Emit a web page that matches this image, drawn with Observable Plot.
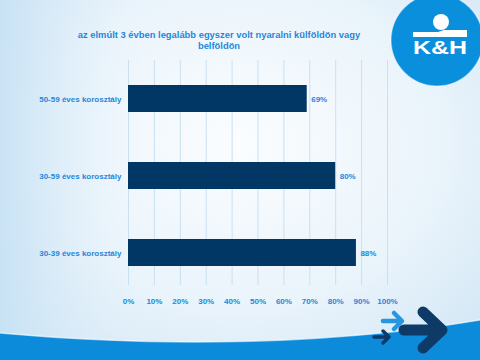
<!DOCTYPE html>
<html>
<head>
<meta charset="utf-8">
<script src="https://cdn.jsdelivr.net/npm/d3@7"></script>
<script src="https://cdn.jsdelivr.net/npm/@observablehq/plot@0.6"></script>
<style>
  html, body { margin:0; padding:0; width:480px; height:360px; overflow:hidden; }
  body {
    position: relative;
    font-family: "Liberation Sans", Arial, sans-serif;
    background: radial-gradient(ellipse 75% 80% at 50% 40%, #fbfdff 0%, #eaf4fb 55%, #cfe5f5 100%);
  }
  #deco, #chart, #title { position:absolute; left:0; top:0; }
  #title {
    left: 62px; width: 314px; top: 29px;
    text-align: center; color: #1f87dc; font-weight: bold; font-size: 9.4px; line-height: 11px;
  }
</style>
</head>
<body>
<svg id="deco" width="480" height="360" viewBox="0 0 480 360">
  <defs>
    <linearGradient id="lg" x1="0" x2="1" y1="0" y2="0">
      <stop offset="0" stop-color="#c6e1f4" stop-opacity="0.9"/>
      <stop offset="0.3" stop-color="#e6f2fb" stop-opacity="0"/>
    </linearGradient>
  </defs>
  <rect x="0" y="0" width="480" height="360" fill="url(#lg)"/>
  <path d="M0,333 C120,344 300,350 480,320 L480,360 L0,360 Z" fill="#0b8bd9"/>
  <path d="M0,333 C120,344 300,350 480,320" fill="none" stroke="#ffffff" stroke-opacity="0.6" stroke-width="1.5"/>
  <!-- arrows -->
  <g stroke-linecap="round" stroke-linejoin="round" fill="none">
    <path d="M383,321 L400,321 M394,313 L402,321 L394,329" stroke="#2596e0" stroke-width="4.5"/>
    <path d="M374,337 L388,337 M383,331 L389,337 L383,343" stroke="#0d3a66" stroke-width="3.5"/>
    <path d="M404,330 L441,330 M423,312 L442,330 L423,348" stroke="#0d3a66" stroke-width="11"/>
  </g>
  <!-- logo -->
  <circle cx="437" cy="40" r="46" fill="#0a8fdc"/>
  <circle cx="437" cy="40" r="46" fill="none" stroke="#ffffff" stroke-opacity="0.35" stroke-width="1.5"/>
  <circle cx="441" cy="22" r="8" fill="#ffffff"/>
  <path d="M413,32 L438,32 L444,30 L467,30 L467,37 L413,37 Z" fill="#ffffff"/>
  <text x="440" y="54" text-anchor="middle" fill="#ffffff" font-family="Liberation Sans, Arial, sans-serif" font-weight="bold" font-size="19" textLength="54" lengthAdjust="spacingAndGlyphs">K&amp;H</text>
</svg>
<div id="chart"></div>
<div id="title">az elmúlt 3 évben legalább egyszer volt nyaralni külföldön vagy belföldön</div>
<script>
const categories = ["50-59 éves korosztály", "30-59 éves korosztály", "30-39 éves korosztály"];
const values = [69, 80, 88];
const tickValues = [0, 10, 20, 30, 40, 50, 60, 70, 80, 90, 100];

const data = categories.map((c, i) => ({category: c, value: values[i]}));
const blue = "#1f87dc";
const navy = "#003764";

const plot = Plot.plot({
  width: 480,
  height: 360,
  marginLeft: 128,
  marginRight: 93,
  marginTop: 59,
  marginBottom: 69,
  style: {background: "transparent", fontFamily: "Liberation Sans, Arial, sans-serif", overflow: "visible"},
  x: {domain: [0, 100], label: null},
  y: {domain: categories, paddingInner: 0.65, paddingOuter: 0.32, label: null},
  marks: [
    Plot.gridX(tickValues, {stroke: "#c9e0f1", strokeOpacity: 1, strokeWidth: 1, insetTop: 1, insetBottom: 6}),
    Plot.axisX(tickValues, {tickSize: 0, tickPadding: 7, tickFormat: d => d + "%", fill: blue, fontWeight: "bold", fontSize: 8, label: null}),
    Plot.axisY({tickSize: 0, tickPadding: 7, fill: blue, fontWeight: "bold", fontSize: 8, label: null}),
    Plot.barX(data, {x: "value", y: "category", fill: navy}),
    Plot.text(data, {x: "value", y: "category", text: d => d.value + "%", dx: 4, textAnchor: "start", fill: blue, fontWeight: "bold", fontSize: 8})
  ]
});
document.getElementById("chart").appendChild(plot);
</script>
</body>
</html>
